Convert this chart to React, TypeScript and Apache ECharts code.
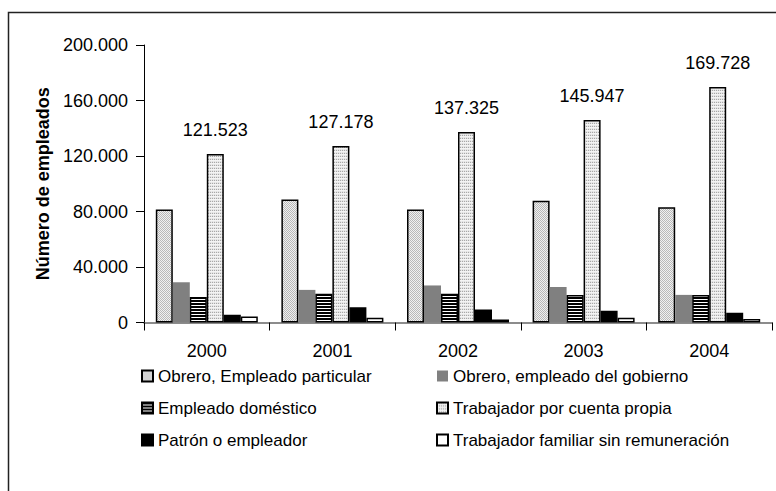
import React, { useEffect, useRef } from "react";
import * as echarts from "echarts";

const years = ["2000", "2001", "2002", "2003", "2004"];
const seriesNames = [
  "Obrero, Empleado particular",
  "Obrero, empleado del gobierno",
  "Empleado doméstico",
  "Trabajador por cuenta propia",
  "Patrón o empleador",
  "Trabajador familiar sin remuneración",
];
const particular = [81500, 88700, 81400, 87700, 83000];
const gobierno = [29000, 23500, 26700, 25600, 19900];
const domestico = [18300, 20800, 20700, 19900, 19900];
const cuentaPropia = [121523, 127178, 137325, 145947, 169728];
const patron = [5600, 11000, 9400, 8500, 7100];
const familiar = [4300, 3500, 2200, 3500, 2500];
const yTicks = [0, 40000, 80000, 120000, 160000, 200000];

const FONT = "'Liberation Sans Narrow', 'Arial Narrow', 'Liberation Sans', Arial, sans-serif";

function fmt(v: number): string {
  return String(v).replace(/\B(?=(\d{3})+(?!\d))/g, ".");
}

function makePattern(w: number, h: number, pixels: string[][]) {
  const c = document.createElement("canvas");
  c.width = w;
  c.height = h;
  const ctx = c.getContext("2d")!;
  for (let y = 0; y < h; y++) {
    for (let x = 0; x < w; x++) {
      ctx.fillStyle = pixels[y][x];
      ctx.fillRect(x, y, 1, 1);
    }
  }
  return { image: c, repeat: "repeat" as const };
}

export default function App() {
  const ref = useRef<HTMLDivElement>(null);
  useEffect(() => {
    if (!ref.current) return;
    const chart = echarts.init(ref.current, undefined, { renderer: "svg" });

    const patParticular = makePattern(2, 2, [
      ["#b8b8b8", "#f0f0f0"],
      ["#f0f0f0", "#b8b8b8"],
    ]);
    const patPropia = makePattern(2, 3, [
      ["#a8a8a8", "#e6e6e6"],
      ["#f4f4f4", "#f4f4f4"],
      ["#e0e0e0", "#ececec"],
    ]);
    const patDomestico = makePattern(1, 3, [["#000000"], ["#000000"], ["#ffffff"]]);

    const border = { borderColor: "#000", borderWidth: 1.5 };
    const dataArr = [particular, gobierno, domestico, cuentaPropia, patron, familiar];
    const styles: any[] = [
      { color: patParticular, ...border },
      { color: "#808080", borderWidth: 0 },
      { color: patDomestico, ...border },
      { color: patPropia, ...border },
      { color: "#000000", ...border },
      { color: "#ffffff", ...border },
    ];

    const series = seriesNames.map((name, i) => ({
      name,
      type: "bar",
      data: dataArr[i],
      barWidth: 17,
      barGap: "0%",
      itemStyle: styles[i],
      label:
        i === 3
          ? {
              show: true,
              position: "top",
              distance: 15,
              formatter: (p: any) => fmt(p.value),
              fontFamily: FONT,
              fontSize: 18,
              color: "#000",
            }
          : { show: false },
    }));

    const legendText = { fontFamily: FONT, fontSize: 17, color: "#000", lineHeight: 20 };

    chart.setOption({
      animation: false,
      backgroundColor: "#fff",
      grid: { left: 144, right: 4, top: 45, bottom: 168.5, containLabel: false },
      xAxis: {
        type: "category",
        data: years,
        axisLine: { show: true, lineStyle: { color: "#666", width: 1.5 } },
        axisTick: { show: true, length: 8, lineStyle: { color: "#000" } },
        axisLabel: { fontFamily: FONT, fontSize: 18, color: "#000", margin: 19 },
      },
      yAxis: {
        type: "value",
        min: yTicks[0],
        max: yTicks[yTicks.length - 1],
        interval: 40000,
        name: "Número de empleados",
        nameLocation: "middle",
        nameGap: 84,
        nameTextStyle: { fontFamily: FONT, fontSize: 18, fontWeight: "bold", color: "#000" },
        axisLine: { show: true, lineStyle: { color: "#000", width: 1 } },
        axisTick: { show: true, length: 8, lineStyle: { color: "#000" } },
        splitLine: { show: false },
        axisLabel: {
          fontFamily: FONT,
          fontSize: 18,
          color: "#000",
          margin: 16,
          formatter: (v: number) => fmt(v),
        },
      },
      legend: [
        {
          orient: "vertical",
          left: 136,
          top: 361,
          itemWidth: 11,
          itemHeight: 11,
          itemGap: 12,
          icon: "rect",
          textStyle: legendText,
          data: [seriesNames[0], seriesNames[2], seriesNames[4]],
        },
        {
          orient: "vertical",
          left: 431,
          top: 361,
          itemWidth: 11,
          itemHeight: 11,
          itemGap: 12,
          icon: "rect",
          textStyle: legendText,
          data: [seriesNames[1], seriesNames[3], seriesNames[5]],
        },
      ],
      graphic: [
        {
          type: "rect",
          shape: { x: 8.5, y: 12.5, width: 800, height: 500 },
          style: { fill: "none", stroke: "#222", lineWidth: 1.5 },
          silent: true,
        },
      ],
      series,
    });
    return () => chart.dispose();
  }, []);
  return (
    <div
      ref={ref}
      style={{ position: "absolute", left: 0, top: 0, width: 776, height: 491 }}
    />
  );
}
